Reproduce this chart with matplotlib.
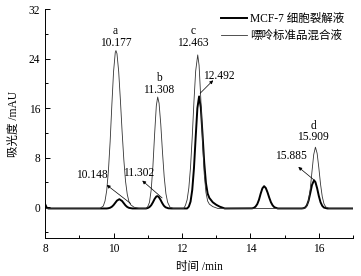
import matplotlib
matplotlib.use('Agg')
import matplotlib.pyplot as plt
from matplotlib.ticker import MultipleLocator

plt.rcParams['font.family'] = ['Liberation Serif', 'Noto Sans CJK SC']
plt.rcParams['font.size'] = 8.3

# purine standard mixture (thin line)
std_time = [8.0, 9.6, 9.7, 9.75, 9.8, 9.85, 9.9, 9.95, 10.0, 10.05, 10.07, 10.1, 10.15, 10.2,
            10.25, 10.3, 10.35, 10.4, 10.45, 10.5, 10.6, 10.75, 10.95,
            11.0, 11.05, 11.1, 11.15, 11.2, 11.25, 11.29, 11.33, 11.38, 11.43, 11.48, 11.53,
            11.58, 11.65, 11.75, 12.05,
            12.1, 12.15, 12.2, 12.25, 12.3, 12.35, 12.4, 12.46, 12.5, 12.55, 12.6, 12.65, 12.7,
            12.75, 12.8, 12.9, 13.05,
            15.55, 15.6, 15.65, 15.7, 15.75, 15.8, 15.85, 15.9, 15.95, 16.0, 16.05, 16.1, 16.15,
            16.2, 16.3, 17.0]
std_abs = [-0.2, -0.2, 0.2, 1.0, 2.7, 5.9, 10.6, 16.5, 21.9, 25.0, 25.3, 24.8, 21.9, 17.3,
           12.2, 7.7, 4.2, 2.1, 0.9, 0.4, 0.0, -0.2, -0.2,
           0.1, 0.8, 2.8, 6.6, 11.8, 16.4, 17.8, 16.8, 13.4, 8.9, 4.9, 2.2,
           0.8, 0.0, -0.2, -0.2,
           0.3, 1.2, 3.1, 6.5, 11.4, 17.1, 22.0, 24.6, 22.9, 17.5, 10.8, 5.4, 2.4,
           1.0, 0.5, 0.1, -0.2,
           -0.2, -0.1, 0.24, 1.1, 3.0, 5.8, 8.5, 9.7, 8.7, 6.35, 3.7, 1.7, 0.55,
           0.05, -0.2, -0.2]

# MCF-7 cell lysate (thick line)
cell_time = [8.0, 8.05, 8.1, 9.8, 9.85, 9.9, 9.95, 10.0, 10.05, 10.1, 10.17, 10.25, 10.3, 10.35,
             10.4, 10.45, 10.55, 10.95,
             11.0, 11.05, 11.1, 11.15, 11.2, 11.25, 11.28, 11.32, 11.37, 11.42, 11.47, 11.52,
             11.6, 11.7, 12.15,
             12.2, 12.25, 12.3, 12.35, 12.4, 12.45, 12.5, 12.55, 12.6, 12.65, 12.7, 12.75, 12.8,
             12.9, 13.0, 13.1, 13.25,
             14.05, 14.1, 14.15, 14.2, 14.25, 14.3, 14.35, 14.4, 14.45, 14.5, 14.55, 14.6, 14.65,
             14.7, 14.8,
             15.5, 15.55, 15.6, 15.65, 15.7, 15.75, 15.8, 15.86, 15.9, 15.95, 16.0, 16.05, 16.1,
             16.15, 16.25, 17.0]
cell_abs = [0.5, -0.1, -0.2, -0.2, -0.16, -0.08, 0.08, 0.35, 0.71, 1.07, 1.3, 1.0, 0.64, 0.29,
            0.04, -0.1, -0.2, -0.2,
            -0.12, 0.03, 0.32, 0.79, 1.34, 1.73, 1.8, 1.67, 1.23, 0.69, 0.25, -0.01,
            -0.17, -0.2, -0.2,
            0.1, 0.9, 2.8, 6.3, 11.3, 16.0, 17.9, 16.1, 11.8, 7.2, 3.9, 2.2, 1.5,
            0.8, 0.4, 0.1, -0.2,
            -0.18, -0.1, 0.1, 0.5, 1.2, 2.2, 3.05, 3.4, 3.1, 2.4, 1.55, 0.8, 0.3,
            0.0, -0.2,
            -0.2, -0.16, -0.05, 0.3, 1.06, 2.3, 3.6, 4.35, 4.06, 3.06, 1.8, 0.8, 0.22,
            -0.06, -0.2, -0.2]

# peak labels: (x, y, text)
peak_labels = [(10.06, 25.6, 'a\n10.177'), (11.33, 18.0, 'b\n11.308'),
               (12.32, 25.6, 'c\n12.463'), (15.83, 10.3, 'd\n15.909')]
# arrow labels: text, text position, arrow head, arrow tail
arrow_labels = [('10.148', (9.36, 5.2), (9.8, 3.6), (10.5, 0.6)),
                ('11.302', (10.74, 5.6), (10.84, 4.3), (11.42, 1.5)),
                ('12.492', (13.08, 21.2), (12.91, 20.5), (12.53, 18.4)),
                ('15.885', (15.19, 8.2), (15.40, 6.5), (15.86, 4.4))]

fig = plt.figure(figsize=(3.61, 2.76), dpi=100)
ax = fig.add_axes([0.125, 0.137, 0.853, 0.830])

ax.plot(cell_time, cell_abs, color='black', lw=1.4, label='MCF-7 细胞裂解液')
ax.plot(std_time, std_abs, color='#333333', lw=0.6, label='嘌呤标准品混合液')

for x, y, s in peak_labels:
    ax.text(x, y, s, ha='center', va='bottom', linespacing=0.95)

for s, txt, head, tail in arrow_labels:
    ax.text(txt[0], txt[1], s, ha='center', va='center')
    ax.annotate('', xy=head, xytext=tail,
                arrowprops=dict(arrowstyle='-|>', color='black', lw=0.5,
                                mutation_scale=5, shrinkA=0, shrinkB=0))

ax.set_xlim(8, 17)
ax.set_ylim(-5, 32)
ax.xaxis.set_major_locator(MultipleLocator(2))
ax.xaxis.set_minor_locator(MultipleLocator(1))
ax.yaxis.set_major_locator(MultipleLocator(8))
ax.yaxis.set_minor_locator(MultipleLocator(4))
ax.tick_params(which='both', direction='in', width=0.7)
ax.tick_params(which='major', length=3.5)
ax.tick_params(which='minor', length=2.5)
ax.spines['top'].set_visible(False)
ax.spines['right'].set_visible(False)
ax.spines['left'].set_linewidth(0.7)
ax.spines['bottom'].set_linewidth(0.7)

ax.set_xlabel('时间 /min', labelpad=4)
ax.set_ylabel('吸光度 /mAU', labelpad=6)

ax.legend(loc='upper right', bbox_to_anchor=(1.005, 1.03), frameon=False,
          handlelength=2.2, handletextpad=0.3, labelspacing=0.45)

fig.savefig('out.png', dpi=100)
